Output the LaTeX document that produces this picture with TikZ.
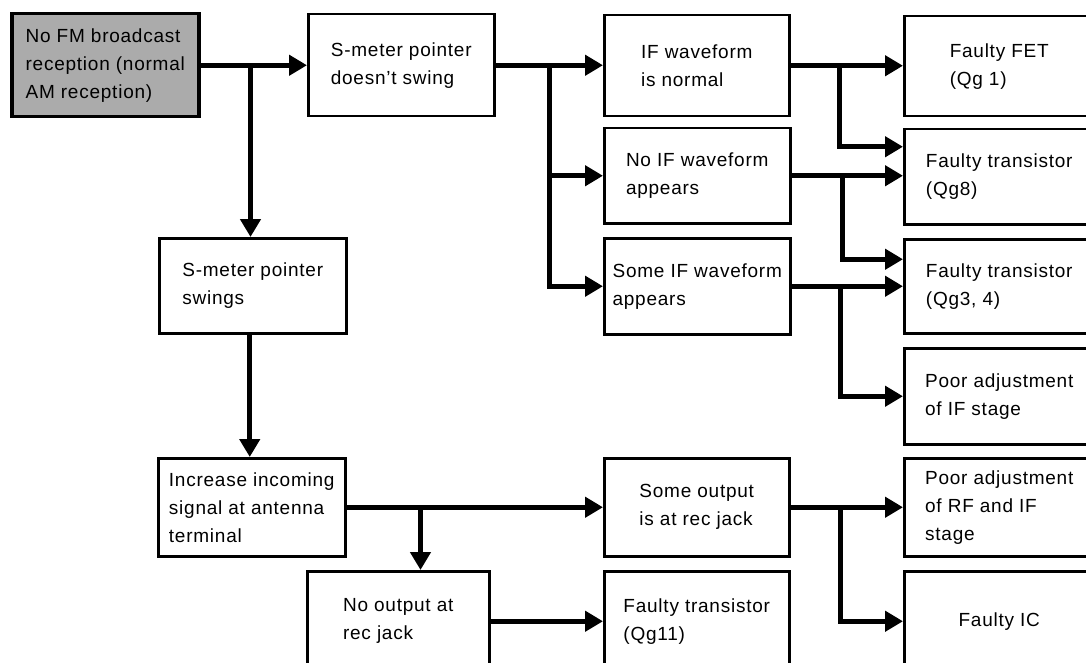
\documentclass[tikz,border=0pt]{standalone}
\usepackage{fontspec}
\setmainfont{Liberation Sans}[LetterSpace=4]
\usetikzlibrary{arrows.meta,calc}
\begin{document}
\begin{tikzpicture}[x=1pt,y=-1pt,
  box/.style={draw, line width=2.5pt, anchor=north west, align=left,
    font=\fontsize{19}{28}\selectfont, inner sep=0pt},
  startbox/.style={box, fill=black!33, line width=3.5pt},
  conn/.style={line width=5pt, line join=miter},
  arr/.style={conn, -{Triangle[length=18pt,width=20pt]}}]
\fill[white] (0,0) rectangle (1086,663);
\clip (0,0) rectangle (1086,663);
% column 1
\node[startbox, minimum width=187pt, minimum height=103pt] (A) at (10,12) {No FM broadcast\\reception (normal\\AM reception)};
\node[box, minimum width=187pt, minimum height=95pt] (L) at (158,237) {S-meter pointer\\swings};
\node[box, minimum width=187pt, minimum height=98pt] (M) at (157,457) {Increase incoming\\signal at antenna\\terminal};
% column 2
\node[box, minimum width=186pt, minimum height=102pt] (B) at (307,13) {S-meter pointer\\doesn’t swing};
\node[box, minimum width=182pt, minimum height=100pt] (O) at (306,570) {No output at\\rec jack};
% column 3
\node[box, minimum width=185pt, minimum height=101pt] (C) at (603,14) {IF waveform\\is normal};
\node[box, minimum width=186pt, minimum height=95pt] (D) at (603,127) {No IF waveform\\appears};
\node[box, minimum width=186pt, minimum height=96pt] (E) at (603,237) {Some IF waveform\\appears};
\node[box, minimum width=185pt, minimum height=98pt] (N) at (603,457) {Some output\\is at rec jack};
\node[box, minimum width=185pt, minimum height=100pt] (P) at (603,570) {Faulty transistor\\(Qg11)};
% column 4
\node[box, minimum width=190pt, minimum height=100pt] (F) at (903,15) {Faulty FET\\(Qg 1)};
\node[box, minimum width=190pt, minimum height=95pt] (G) at (903,128) {Faulty transistor\\(Qg8)};
\node[box, minimum width=190pt, minimum height=94pt] (H) at (903,238) {Faulty transistor\\(Qg3, 4)};
\node[box, minimum width=190pt, minimum height=96pt] (I) at (903,347) {Poor adjustment\\of IF stage};
\node[box, minimum width=190pt, minimum height=98pt] (J) at (903,457) {Poor adjustment\\of RF and IF\\stage};
\node[box, minimum width=190pt, minimum height=100pt] (K) at (903,570) {Faulty IC};
% branch points
\coordinate (bA) at ($(A.east)+(50,0)$);
\coordinate (bB) at ($(B.east)+(54,0)$);
\coordinate (bC) at ($(C.east)+(49,0)$);
\coordinate (bD) at ($(D.east)+(51,0)$);
\coordinate (bE) at ($(E.east)+(49,0)$);
\coordinate (bM) at ($(M.east)+(74,0)$);
\coordinate (bN) at ($(N.east)+(50,0)$);
\coordinate (gUp) at ($(G.west)+(0,-30)$);
\coordinate (hUp) at ($(H.west)+(0,-27)$);
% connectors
\draw[arr] (A.east) -- (B.west |- A.east);
\draw[arr] (bA) -- (bA |- L.north);
\draw[arr] (B.east) -- (C.west |- B.east);
\draw[arr] (bB) |- (D.west);
\draw[arr] (bB) |- (E.west);
\draw[arr] (C.east) -- (F.west |- C.east);
\draw[arr] (bC) |- (gUp);
\draw[arr] (D.east) -- (G.west |- D.east);
\draw[arr] (bD) |- (hUp);
\draw[arr] (E.east) -- (H.west |- E.east);
\draw[arr] (bE) |- (I.west);
\draw[arr] ($(L.south)+(-3,0)$) -- ($(M.north -| L.south)+(-3,0)$);
\draw[arr] (M.east) -- (N.west |- M.east);
\draw[arr] (bM) -- (bM |- O.north);
\draw[arr] (O.east) -- (P.west |- O.east);
\draw[arr] (N.east) -- (J.west |- N.east);
\draw[arr] (bN) |- (K.west);
\end{tikzpicture}
\end{document}
